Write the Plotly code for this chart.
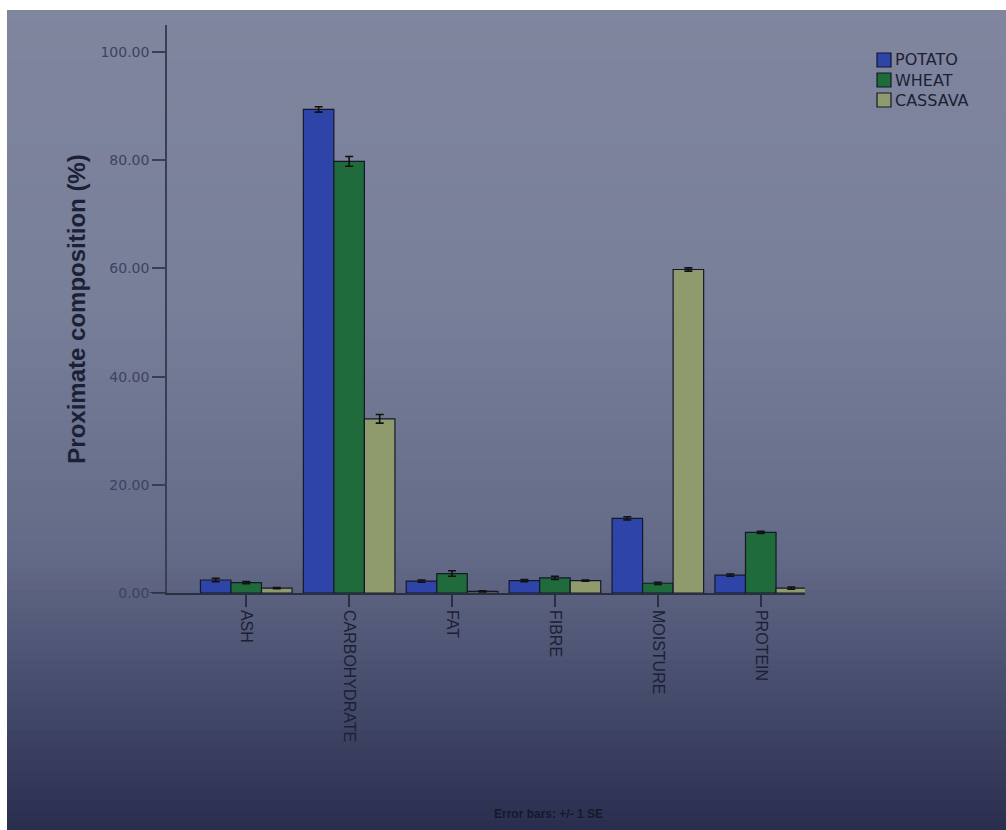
import plotly.graph_objects as go

# Proximate composition (%) of potato, wheat and cassava flours
categories = ["ASH", "CARBOHYDRATE", "FAT", "FIBRE", "MOISTURE", "PROTEIN"]
potato = [2.4, 89.4, 2.2, 2.3, 13.8, 3.3]
wheat = [1.9, 79.8, 3.6, 2.8, 1.8, 11.2]
cassava = [0.9, 32.2, 0.3, 2.3, 59.8, 0.9]
potato_se = [0.3, 0.5, 0.2, 0.2, 0.3, 0.2]
wheat_se = [0.2, 0.9, 0.5, 0.3, 0.2, 0.2]
cassava_se = [0.1, 0.8, 0.1, 0.1, 0.3, 0.2]
y_ticks = [0, 20, 40, 60, 80, 100]

series = [
    ("POTATO", potato, potato_se, "#2e44a8"),
    ("WHEAT", wheat, wheat_se, "#1f6b3b"),
    ("CASSAVA", cassava, cassava_se, "#8f9b6c"),
]

fig = go.Figure()
for name, vals, se, col in series:
    fig.add_trace(go.Bar(
        name=name, x=categories, y=vals,
        marker=dict(color=col, line=dict(color="#15182a", width=1.2)),
        error_y=dict(type="data", array=se, visible=True,
                     color="#111", thickness=1.6, width=4),
        showlegend=False,
    ))

# plot area geometry in pixels (for paper-coordinate helpers)
W, H = 1006, 830
L, R, T, B = 167, 201, 25, 237
pw, ph = W - L - R, H - T - B


def px_x(px):
    return (px - L) / pw


def px_y(py):
    return (H - B - py) / ph


# vertical background gradient
stops = [(0, (128, 134, 158)), (300, (120, 127, 153)), (550, (100, 107, 136)),
         (700, (68, 74, 106)), (830, (42, 46, 78))]


def col_at(py):
    for (y0, c0), (y1, c1) in zip(stops[:-1], stops[1:]):
        if y0 <= py <= y1:
            t = (py - y0) / (y1 - y0)
            return "rgb(%d,%d,%d)" % tuple(round(a + (b - a) * t) for a, b in zip(c0, c1))
    return "rgb(%d,%d,%d)" % stops[-1][1]


shapes = []
step = 10
for py in range(0, H, step):
    shapes.append(dict(type="rect", xref="paper", yref="paper", layer="below",
                       x0=px_x(0), x1=px_x(W), y0=px_y(py + step + 1), y1=px_y(py),
                       fillcolor=col_at(py + step / 2), line=dict(width=0)))
# white edges of the sheet
shapes.append(dict(type="rect", xref="paper", yref="paper", layer="above",
                   x0=px_x(0), x1=px_x(W), y0=px_y(10), y1=px_y(0),
                   fillcolor="white", line=dict(width=0)))
shapes.append(dict(type="rect", xref="paper", yref="paper", layer="above",
                   x0=px_x(0), x1=px_x(7), y0=px_y(H), y1=px_y(0),
                   fillcolor="white", line=dict(width=0)))
# baseline extends a little left of the value axis
shapes.append(dict(type="line", xref="paper", yref="y",
                   x0=px_x(150), x1=0, y0=0, y1=0,
                   line=dict(color="#2a2e40", width=1.5)))

annotations = [dict(text="<b>Error bars: +/- 1 SE</b>", xref="paper", yref="paper",
                    x=px_x(548), y=px_y(814), yanchor="middle", showarrow=False,
                    font=dict(size=12, color="#15182a"))]

# legend: colour swatch + label per series
for i, (name, _, _, col) in enumerate(series):
    cy = 60 + 20 * i
    shapes.append(dict(type="rect", xref="paper", yref="paper", layer="above",
                       x0=px_x(877), x1=px_x(891), y0=px_y(cy + 7), y1=px_y(cy - 7),
                       fillcolor=col, line=dict(color="#15182a", width=1.2)))
    annotations.append(dict(text=name, xref="paper", yref="paper",
                            x=px_x(893), y=px_y(cy), xanchor="left", yanchor="middle",
                            showarrow=False,
                            font=dict(family="DejaVu Sans", size=16, color="#1c2034")))

fig.update_layout(
    width=W, height=H,
    margin=dict(l=L, r=R, t=T, b=B),
    paper_bgcolor="rgb(110,117,143)",
    plot_bgcolor="rgba(0,0,0,0)",
    barmode="group", bargap=0.11, bargroupgap=0.0,
    font=dict(family="Liberation Sans, Arial", color="#20243a"),
    shapes=shapes,
    annotations=annotations,
    showlegend=False,
)

fig.update_xaxes(
    range=[-0.77, 5.43], showline=True, linecolor="#2a2e40", linewidth=1.5,
    ticks="outside", ticklen=12, tickcolor="#2a2e40", tickwidth=1.5,
    tickangle=90, tickfont=dict(size=16, color="#1c2034"), showgrid=False,
)
fig.update_yaxes(
    range=[0, 105], tickvals=y_ticks, tickformat=".2f",
    showline=True, linecolor="#3a3e52", linewidth=1.5,
    ticks="outside", ticklen=13, tickcolor="#3a3e52", tickwidth=1.5,
    tickfont=dict(family="DejaVu Sans", size=14, color="#3c4260"),
    showgrid=False, zeroline=False,
    title=dict(text="<b>Proximate composition (%)</b>",
               font=dict(size=24, color="#1c2034"), standoff=8),
)

fig.write_html("out.html")
